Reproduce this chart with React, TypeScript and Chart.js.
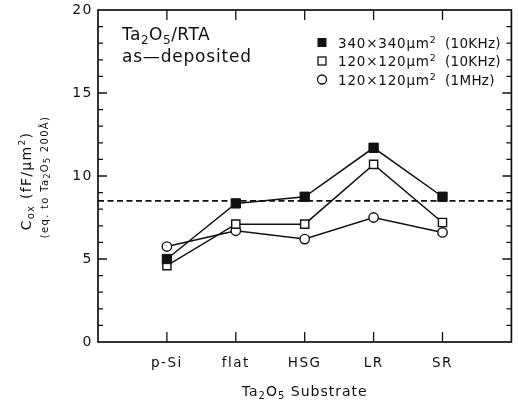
import React, { useEffect, useRef } from "react";
import { Chart, registerables } from "chart.js";

Chart.register(...registerables);

// Substrates on the x axis, placed at 1..5 on a 0..6 linear scale
const substrates = ["p-Si", "flat", "HSG", "LR", "SR"];
// Capacitance (fF/µm², equivalent to 200 Å Ta2O5)
const large10k = [5.0, 8.35, 8.75, 11.7, 8.75];
const small10k = [4.6, 7.1, 7.1, 10.7, 7.2];
const small1M = [5.75, 6.7, 6.2, 7.5, 6.6];
// Horizontal dashed reference level
const refLevel = 8.5;
const yTicks = [0, 5, 10, 15, 20];

const FONT = "'DejaVu Sans', 'Liberation Sans', sans-serif";
const INK = "#111";

type Seg = { t: string; s: number; dy?: number };

function richWidth(ctx: CanvasRenderingContext2D, segs: Seg[], spacing: number) {
  let w = 0;
  for (const sg of segs) {
    ctx.font = `${sg.s}px ${FONT}`;
    (ctx as any).letterSpacing = `${spacing}px`;
    w += ctx.measureText(sg.t).width;
  }
  return w;
}

function drawRich(ctx: CanvasRenderingContext2D, segs: Seg[], x: number, y: number, spacing: number) {
  let cx = x;
  ctx.textBaseline = "alphabetic";
  ctx.textAlign = "left";
  for (const sg of segs) {
    ctx.font = `${sg.s}px ${FONT}`;
    (ctx as any).letterSpacing = `${spacing}px`;
    ctx.fillText(sg.t, cx, y + (sg.dy || 0));
    cx += ctx.measureText(sg.t).width;
  }
}

const framePlugin = {
  id: "frameAndText",
  afterDraw(chart: any) {
    const ctx: CanvasRenderingContext2D = chart.ctx;
    const { left, right, top, bottom } = chart.chartArea;
    const xs = chart.scales.x;
    const ys = chart.scales.y;
    ctx.save();
    ctx.strokeStyle = INK;
    ctx.fillStyle = INK;
    ctx.lineWidth = 1.7;
    ctx.strokeRect(left, top, right - left, bottom - top);

    // inward tick marks on all four sides
    ctx.lineWidth = 1.3;
    ctx.beginPath();
    for (let v = 1; v < 20; v++) {
      const y = ys.getPixelForValue(v);
      const len = v % 5 === 0 ? 9 : 5;
      ctx.moveTo(left, y);
      ctx.lineTo(left + len, y);
      ctx.moveTo(right, y);
      ctx.lineTo(right - len, y);
    }
    substrates.forEach((_, i) => {
      const x = xs.getPixelForValue(i + 1);
      ctx.moveTo(x, bottom);
      ctx.lineTo(x, bottom - 10);
      ctx.moveTo(x, top);
      ctx.lineTo(x, top + 10);
    });
    ctx.stroke();

    // y tick labels
    ctx.font = `14px ${FONT}`;
    (ctx as any).letterSpacing = "1.5px";
    ctx.textAlign = "right";
    ctx.textBaseline = "middle";
    yTicks.forEach((v) => ctx.fillText(String(v), left - 5, ys.getPixelForValue(v)));

    // x tick labels
    ctx.textAlign = "center";
    ctx.font = `13.5px ${FONT}`;
    (ctx as any).letterSpacing = "1.5px";
    substrates.forEach((s, i) => ctx.fillText(s, xs.getPixelForValue(i + 1), bottom + 21));

    // x axis title
    const xTitle: Seg[] = [
      { t: "Ta", s: 14 },
      { t: "2", s: 10, dy: 3 },
      { t: "O", s: 14 },
      { t: "5", s: 10, dy: 3 },
      { t: " Substrate", s: 14 },
    ];
    const xw = richWidth(ctx, xTitle, 1);
    drawRich(ctx, xTitle, (left + right) / 2 - xw / 2, bottom + 54, 1);

    // y axis title, two rotated lines
    const yTitle1: Seg[] = [
      { t: "C", s: 14 },
      { t: "ox", s: 10, dy: 3 },
      { t: " (fF/µm", s: 14 },
      { t: "2", s: 9, dy: -6 },
      { t: ")", s: 14 },
    ];
    const yTitle2: Seg[] = [
      { t: "(eq. to Ta", s: 10 },
      { t: "2", s: 8, dy: 2 },
      { t: "O", s: 10 },
      { t: "5", s: 8, dy: 2 },
      { t: " 200Å)", s: 10 },
    ];
    const cy = 181;
    ctx.save();
    ctx.translate(31, cy);
    ctx.rotate(-Math.PI / 2);
    const w1 = richWidth(ctx, yTitle1, 1.3);
    drawRich(ctx, yTitle1, -w1 / 2, 0, 1.3);
    ctx.restore();
    ctx.save();
    ctx.translate(48, cy - 4);
    ctx.rotate(-Math.PI / 2);
    const w2 = richWidth(ctx, yTitle2, 1.3);
    drawRich(ctx, yTitle2, -w2 / 2, 0, 1.3);
    ctx.restore();

    // sample annotation
    drawRich(
      ctx,
      [
        { t: "Ta", s: 17 },
        { t: "2", s: 12, dy: 4 },
        { t: "O", s: 17 },
        { t: "5", s: 12, dy: 4 },
        { t: "/RTA", s: 17 },
      ],
      122,
      40,
      0.5
    );
    drawRich(ctx, [{ t: "as—deposited", s: 17 }], 122, 62, 0.8);

    // legend
    const mx = 322;
    const rows = [42.5, 61, 79.5];
    ctx.lineWidth = 1.3;
    ctx.fillRect(mx - 4.5, rows[0] - 4.5, 9, 9);
    ctx.fillStyle = "#fff";
    ctx.fillRect(mx - 4, rows[1] - 4, 8, 8);
    ctx.strokeRect(mx - 4, rows[1] - 4, 8, 8);
    ctx.beginPath();
    ctx.arc(mx, rows[2], 4.5, 0, Math.PI * 2);
    ctx.fill();
    ctx.stroke();
    ctx.fillStyle = INK;
    const legendRows: [string, string][] = [
      ["340×340µm", "(10KHz)"],
      ["120×120µm", "(10KHz)"],
      ["120×120µm", "(1MHz)"],
    ];
    legendRows.forEach(([size, freq], i) => {
      drawRich(ctx, [{ t: size, s: 13.5 }, { t: "2", s: 9.5, dy: -5 }], 338, rows[i] + 5, 0.8);
      drawRich(ctx, [{ t: freq, s: 13.5 }], 445, rows[i] + 5, 0.3);
    });
    ctx.restore();
  },
};

function toPoints(vals: number[]) {
  return vals.map((y, i) => ({ x: i + 1, y }));
}

export default function App() {
  const ref = useRef<HTMLCanvasElement | null>(null);
  useEffect(() => {
    if (!ref.current) return;
    const chart = new Chart(ref.current, {
      type: "line",
      data: {
        datasets: [
          {
            label: "340×340µm² (10KHz)",
            data: toPoints(large10k),
            borderColor: INK,
            borderWidth: 1.5,
            pointStyle: "rect",
            pointRadius: 6.6,
            pointBackgroundColor: INK,
            pointBorderColor: INK,
            pointBorderWidth: 1,
          },
          {
            label: "120×120µm² (10KHz)",
            data: toPoints(small10k),
            borderColor: INK,
            borderWidth: 1.5,
            pointStyle: "rect",
            pointRadius: 5.8,
            pointBackgroundColor: "#fff",
            pointBorderColor: INK,
            pointBorderWidth: 1.4,
          },
          {
            label: "120×120µm² (1MHz)",
            data: toPoints(small1M),
            borderColor: INK,
            borderWidth: 1.5,
            pointStyle: "circle",
            pointRadius: 4.7,
            pointBackgroundColor: "#fff",
            pointBorderColor: INK,
            pointBorderWidth: 1.4,
          },
          {
            label: "reference",
            data: [
              { x: 0, y: refLevel },
              { x: 6, y: refLevel },
            ],
            borderColor: INK,
            borderWidth: 1.7,
            borderDash: [6, 3.5],
            pointRadius: 0,
          },
        ],
      },
      options: {
        animation: false,
        responsive: true,
        maintainAspectRatio: false,
        layout: { padding: { left: 98, right: 7, top: 10, bottom: 60 } },
        plugins: { legend: { display: false }, tooltip: { enabled: false } },
        scales: {
          x: { type: "linear", min: 0, max: 6, display: false },
          y: { type: "linear", min: 0, max: 20, display: false },
        },
      },
      plugins: [framePlugin],
    });
    return () => chart.destroy();
  }, []);
  return (
    <div style={{ position: "fixed", left: 0, top: 0, width: 519, height: 402, background: "#fff" }}>
      <canvas ref={ref} />
    </div>
  );
}
